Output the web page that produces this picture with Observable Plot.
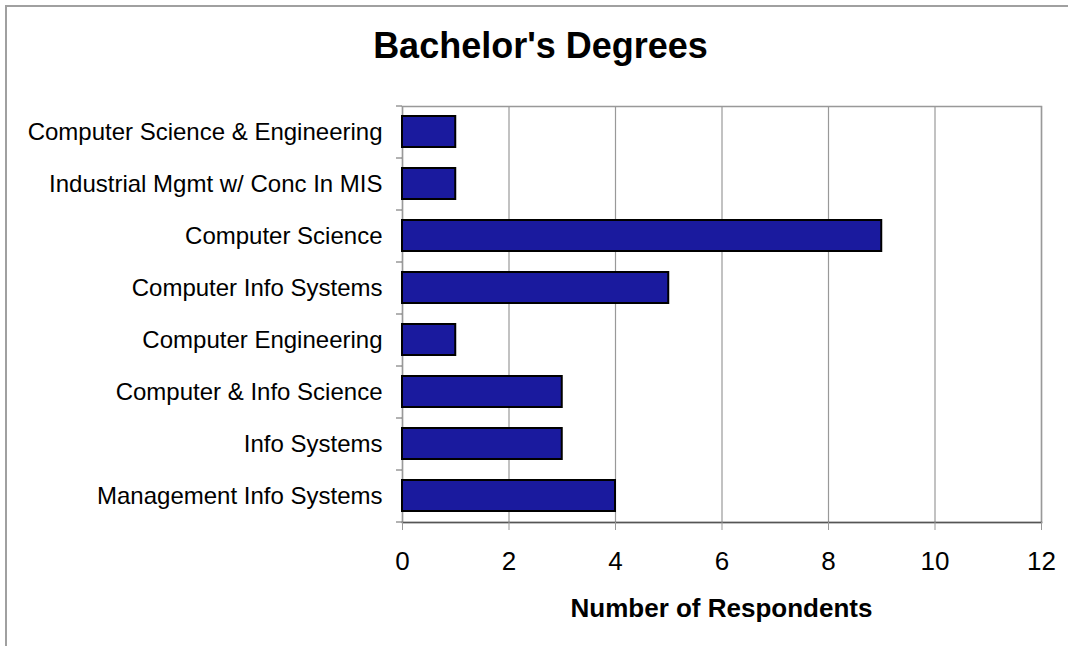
<!DOCTYPE html>
<html>
<head>
<meta charset="utf-8">
<script src="https://cdn.jsdelivr.net/npm/d3@7"></script>
<script src="https://cdn.jsdelivr.net/npm/@observablehq/plot@0.6"></script>
<style>
  html, body { margin: 0; padding: 0; background: #fff; }
  #wrap { position: relative; width: 1068px; height: 646px; overflow: hidden; font-family: "Liberation Sans", Arial, sans-serif; }
  #border { position: absolute; left: 5px; top: 5px; width: 1100px; height: 700px; border-top: 2px solid #a0a0a0; border-left: 2px solid #a0a0a0; }
  #title { position: absolute; left: 0; width: 1081px; top: 28px; text-align: center; font-weight: bold; font-size: 36px; line-height: 1; color: #000; }
  #xlabel { position: absolute; left: 402px; width: 639px; top: 595px; text-align: center; font-weight: bold; font-size: 26px; line-height: 1; color: #000; }
  #chart { position: absolute; left: 0; top: 0; }
</style>
</head>
<body>
<div id="wrap">
  <div id="border"></div>
  <div id="chart"></div>
  <div id="title">Bachelor's Degrees</div>
  <div id="xlabel">Number of Respondents</div>
</div>
<script>
const categories = [
  "Computer Science & Engineering",
  "Industrial Mgmt w/ Conc In MIS",
  "Computer Science",
  "Computer Info Systems",
  "Computer Engineering",
  "Computer & Info Science",
  "Info Systems",
  "Management Info Systems"
];
const respondents = [1, 1, 9, 5, 1, 3, 3, 4];
const xTicks = [0, 2, 4, 6, 8, 10, 12];

const data = categories.map((c, i) => ({category: c, value: respondents[i]}));

const chart = Plot.plot({
  width: 1068,
  height: 646,
  marginTop: 106,
  marginLeft: 402,
  marginRight: 27,
  marginBottom: 124,
  x: {domain: [0, 12], ticks: xTicks},
  y: {domain: categories, paddingInner: 0.4, paddingOuter: 0.2},
  style: {fontFamily: "'Liberation Sans', Arial, sans-serif", fontSize: "21px", color: "#000", background: "transparent"},
  marks: [
    Plot.gridX(xTicks, {stroke: "#999", strokeOpacity: 1, strokeWidth: 1.2}),
    Plot.frame({stroke: "#999", strokeWidth: 1.5}),
    Plot.frame({anchor: "bottom", stroke: "#555", strokeWidth: 1.5}),
    Plot.barX(data, {x: "value", y: "category", fill: "#1a1a9e", stroke: "#000", strokeWidth: 2}),
    Plot.axisX(xTicks, {tickSize: 8, tickPadding: 21, fontSize: 26, label: null, stroke: "#999"}),
    Plot.axisY({tickSize: 0, tickPadding: 20, label: null, fontSize: 24}),
    Plot.axisY(categories, {tickSize: 6, tickFormat: () => "", label: null, dy: -26, stroke: "#666"}),
    Plot.axisY(categories.slice(-1), {tickSize: 6, tickFormat: () => "", label: null, dy: 26, stroke: "#666"})
  ]
});
document.getElementById("chart").appendChild(chart);
</script>
</body>
</html>
